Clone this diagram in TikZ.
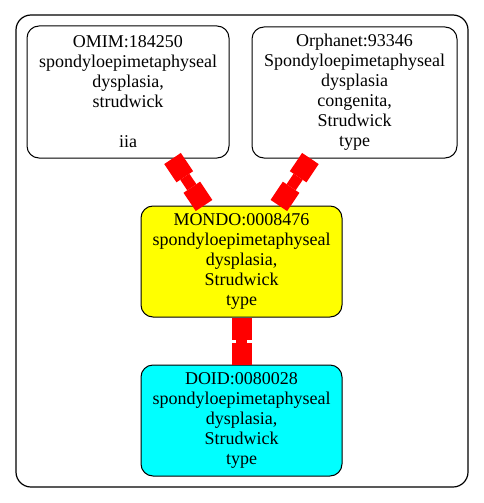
\documentclass[tikz,border=0pt]{standalone}
\usepackage{fontspec}
\setmainfont{Liberation Serif}
\usetikzlibrary{arrows.meta}
\definecolor{linkred}{RGB}{255,0,0}
\definecolor{mondofill}{RGB}{255,255,0}
\definecolor{doidfill}{RGB}{0,255,255}
\tikzset{
  term/.style={draw, rounded corners=12pt, line width=1pt, align=center,
    inner sep=0pt, font=\fontsize{18}{20}\selectfont},
  link/.style={draw=linkred, line width=11pt,
    {Square[length=22pt,width=20pt,line width=0pt]}-{Square[length=22pt,width=20pt,line width=0pt]}}
}
\begin{document}
\begin{tikzpicture}[x=1pt,y=-1pt]
  \useasboundingbox (0,0) rectangle (484,503);
  % cluster frame
  \draw[line width=1.2pt, rounded corners=15pt] (16,15) rectangle (468,487);
  % the two source terms
  \node[term, minimum width=202pt, minimum height=132pt] (omim) at (128,92)
    {OMIM:184250\\spondyloepimetaphyseal\\dysplasia,\\strudwick\\\mbox{}\\iia};
  \node[term, minimum width=205pt, minimum height=131pt] (orpha) at (354.5,92.5)
    {Orphanet:93346\\Spondyloepimetaphyseal\\dysplasia\\congenita,\\Strudwick\\type};
  % merged term
  \node[term, fill=mondofill, minimum width=201pt, minimum height=111pt] (mondo) at (241.5,261.5)
    {MONDO:0008476\\spondyloepimetaphyseal\\dysplasia,\\Strudwick\\type};
  % mapped term
  \node[term, fill=doidfill, minimum width=201pt, minimum height=111pt] (doid) at (241.5,420.5)
    {DOID:0080028\\spondyloepimetaphyseal\\dysplasia,\\Strudwick\\type};
  % links
  \draw[link] (omim) -- (mondo);
  \draw[link] (orpha) -- (mondo);
  \draw[link] (mondo) -- (doid);
\end{tikzpicture}
\end{document}
